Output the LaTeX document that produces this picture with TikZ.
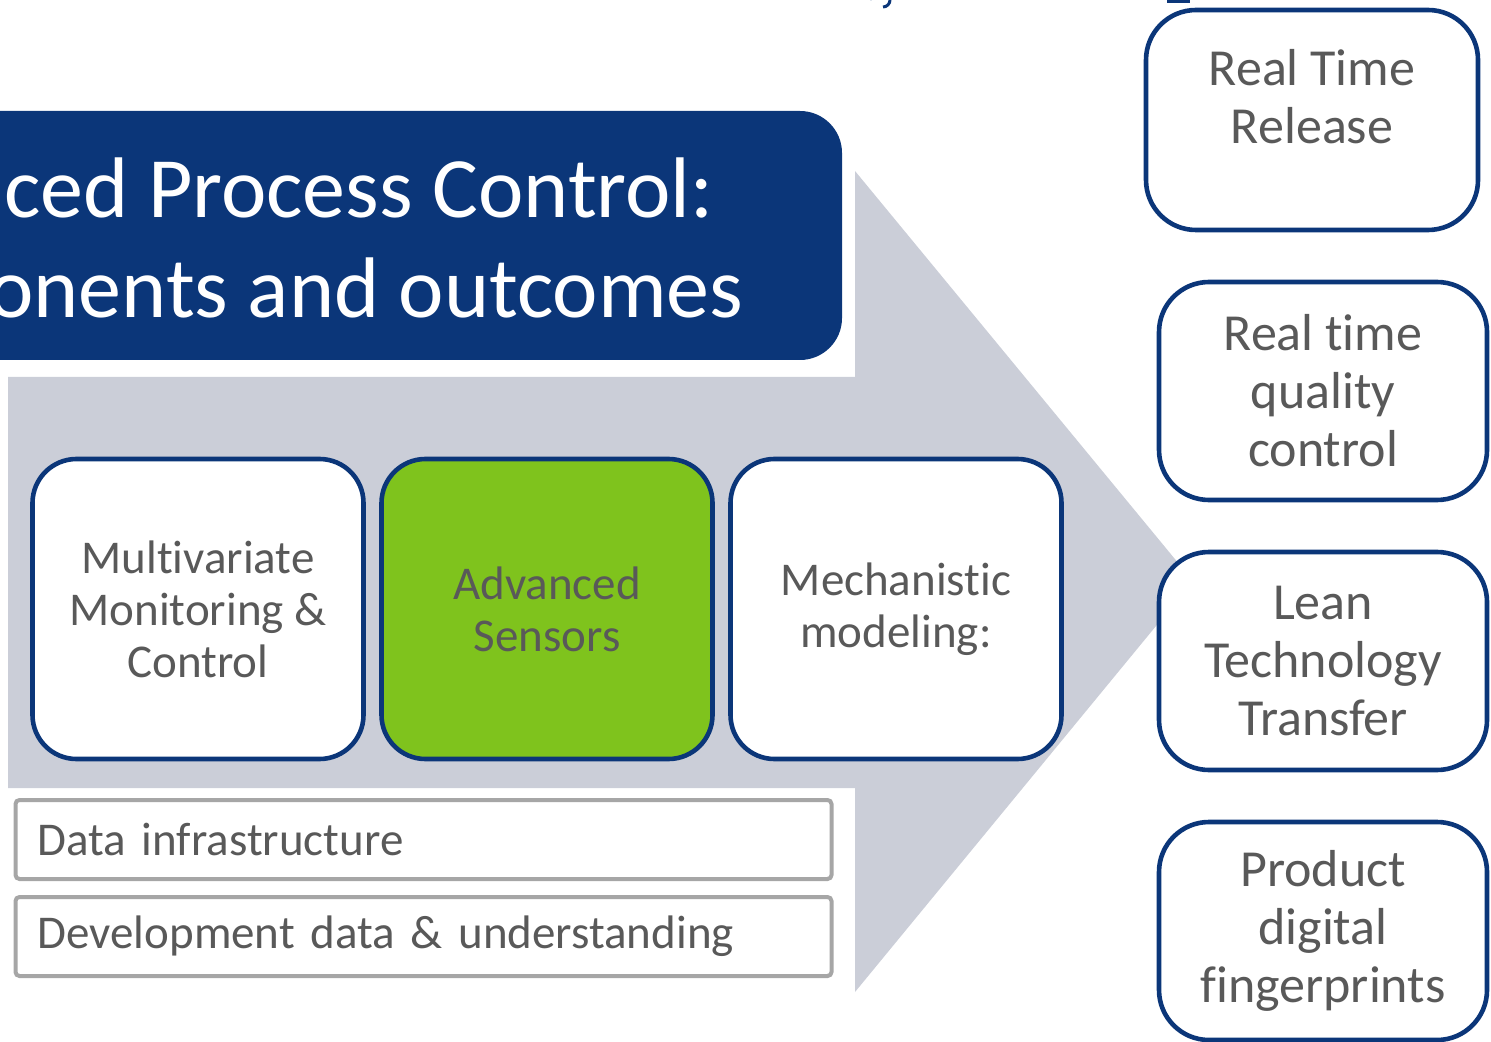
\documentclass[tikz,border=0pt]{standalone}
\usepackage{fontspec}
\setmainfont{Carlito}[Ligatures=NoCommon]
\usepackage{xcolor}
\usepackage{tikz}
\usetikzlibrary{positioning}

\definecolor{apcblue}{HTML}{0B3679}
\definecolor{arrowgrey}{HTML}{CBCED8}
\definecolor{labelgrey}{HTML}{595959}
\definecolor{sensorgreen}{HTML}{7FC31D}
\definecolor{framegrey}{HTML}{A6A6A6}

\begin{document}
\begin{tikzpicture}[x=0.5pt,y=-0.5pt,
    comp/.style={draw=apcblue, line width=2.3pt, rounded corners=22pt, fill=white,
        minimum width=165.5pt, minimum height=150pt, align=center,
        text=labelgrey, font=\fontsize{23.5}{26}\selectfont},
    outcome/.style={draw=apcblue, line width=2.3pt, rounded corners=25pt, fill=white,
        minimum width=164pt, minimum height=109pt, align=center,
        text=labelgrey, font=\fontsize{26}{29}\selectfont},
    layer/.style={draw=framegrey, line width=2pt, rounded corners=2pt, fill=white,
        minimum height=39.5pt, inner xsep=11pt, text width=386pt, align=left,
        text=labelgrey, font=\fontsize{23.5}{26}\selectfont},
    headline/.style={inner sep=0pt, text=white, font=\fontsize{43}{50}\selectfont}]
    \useasboundingbox (0,0) rectangle (1491,1042);
    \clip (0,0) rectangle (1491,1042);

    % Big grey arrow behind the components
    \fill[arrowgrey] (8,377) -- (855,377) -- (855,171) -- (1193,581)
        -- (855,992) -- (855,788) -- (8,788) -- cycle;

    % Title bar
    \node[fill=apcblue, rounded corners=21pt, minimum width=451pt,
        minimum height=124.5pt] (title) at (391,235.5) {};
    \node[headline, anchor=base west] (title1) at (4,218) {ced Process Control:};
    \node[headline, anchor=base west] (title2) at (-12,318) {onents and outcomes};

    % Bits of the slide above
    \fill[apcblue] (1167,0) rectangle (1190,3);
    \draw[apcblue, line width=1.5pt] (872,0) arc (180:90:-6) (890,0) arc (180:270:-7);

    % Components
    \node[comp] (mvm) at (198,609) {Multivariate\\Monitoring \&\\Control};
    \node[comp, fill=sensorgreen] (sensors) at (547,609) {Advanced\\Sensors};
    \node[comp] (mech) at (896,609) {Mechanistic\\modeling:};

    % Foundation layers
    \node[layer] (infra) at (423.5,839.5) {Data infrastructure};
    \node[layer] (devdata) at (423.5,936.5) {Development data \& understanding};

    % Outcomes
    \node[outcome, minimum width=166pt, minimum height=110pt] (rtr) at (1312,120) {};
    \node[outcome, draw=none, fill=none, minimum width=0pt, minimum height=0pt,
        anchor=north] (rtrtext) at (1312,40) {Real Time\\Release};
    \node[outcome] (rtqc) at (1323,391) {Real time\\quality\\control};
    \node[outcome] (lean) at (1323,661) {Lean\\Technology\\Transfer};
    \node[outcome] (prod) at (1323,931) {Product\\digital\\fingerprints};
\end{tikzpicture}
\end{document}
